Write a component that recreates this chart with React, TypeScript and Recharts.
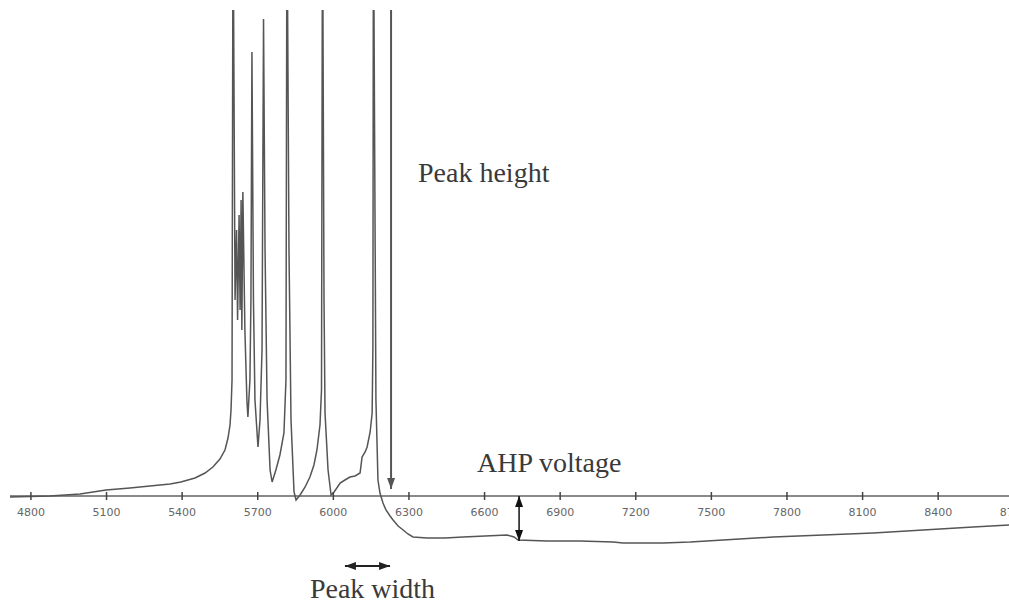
import React from "react";
import { LineChart, Line, XAxis, YAxis, ReferenceLine, ReferenceDot } from "recharts";

// membrane trace, time (ms) / voltage (arbitrary units, 0 = axis level)
const ONSET_T = [4717, 4875, 4995, 5098, 5193, 5272, 5352, 5395, 5451, 5491, 5522, 5550, 5570, 5582, 5590, 5594, 5598];
const ONSET_V = [-0.1, 0, 0.2, 0.6, 0.8, 1.0, 1.2, 1.4, 1.8, 2.3, 2.9, 3.7, 4.6, 5.8, 7.1, 8.6, 11.6];

const BURST_T = [
  5602, 5610, 5616, 5620, 5626, 5630, 5634, 5637, 5641, 5649, 5657, 5661, 5669, 5673, 5677, 5683, 5689,
  5701, 5709, 5717, 5723, 5729, 5737, 5749, 5757, 5772, 5788, 5804, 5812, 5816, 5824, 5832, 5844, 5852,
  5868, 5888, 5907, 5923, 5935, 5947, 5953, 5957, 5963, 5967, 5979, 5991, 6003, 6027, 6046, 6066, 6086,
  6106, 6114, 6126, 6134, 6146, 6154, 6157, 6159, 6169, 6177, 6185, 6197, 6209,
];
const BURST_V = [
  60, 19.6, 26.6, 17.6, 28.1, 18.6, 29.6, 16.6, 30.4, 16.6, 9.6, 7.9, 11.6, 19.6, 44.4, 19.6, 9.6,
  4.9, 7.6, 14.6, 47.7, 24.6, 9.6, 2.6, 1.4, 2.6, 4.1, 6.3, 11.6, 60, 24.6, 7.6, 0.4, -0.4,
  0.1, 0.9, 1.9, 3.1, 4.6, 7.1, 10.6, 60, 19.6, 8.3, 2.6, 0.1, 0.4, 1.3, 1.6, 1.9, 2.0,
  2.3, 3.9, 4.4, 4.9, 6.4, 8.3, 14.9, 60, 9.6, 1.6, 0.3, -0.7, -1.4,
];

const AHP_T = [6225, 6237, 6257, 6277, 6296, 6316, 6372, 6443, 6515, 6602, 6689, 6717, 6733, 6848, 6979, 7110, 7150, 7309, 7416, 7547, 7745, 7944, 8142, 8341, 8539, 8682, 8800];
const AHP_V = [-2.0, -2.4, -3.0, -3.4, -3.8, -4.1, -4.2, -4.2, -4.1, -4.0, -3.9, -4.1, -4.4, -4.5, -4.5, -4.6, -4.7, -4.7, -4.6, -4.4, -4.1, -3.9, -3.7, -3.4, -3.1, -2.9, -2.7];

const X_TICKS = [4800, 5100, 5400, 5700, 6000, 6300, 6600, 6900, 7200, 7500, 7800, 8100, 8400, 8700];

// annotations
const PEAK_HEIGHT_ARROW = [{ x: 6229, y: 48.6 }, { x: 6229, y: 0.7 }];
const AHP_ARROW = [{ x: 6737, y: 0 }, { x: 6737, y: -4.5 }];
const PEAK_WIDTH_ARROW = [{ x: 6046, y: -7.0 }, { x: 6225, y: -7.0 }];
const LABELS = [
  { text: "Peak height", t: 6336, v: 31.4 },
  { text: "AHP voltage", t: 6570, v: 2.4 },
  { text: "Peak width", t: 5907, v: -10.2 },
];

const data = [
  ...ONSET_T.map((t, i) => ({ t, v: ONSET_V[i] })),
  ...BURST_T.map((t, i) => ({ t, v: BURST_V[i] })),
  ...AHP_T.map((t, i) => ({ t, v: AHP_V[i] })),
];

const W = 1039;
const H = 603;
const MARGIN = { top: 10, right: 0, bottom: 0, left: 10 };
const X_AXIS_H = 1;
const Y_MIN = -10.6;
const Y_MAX = 48.6;
const PLOT_H = H - MARGIN.top - MARGIN.bottom - X_AXIS_H;
const AXIS_Y = MARGIN.top + (Y_MAX / (Y_MAX - Y_MIN)) * PLOT_H;

function AxisTick(props: any) {
  const { x, payload } = props;
  return (
    <g>
      <line x1={x} x2={x} y1={AXIS_Y - 4} y2={AXIS_Y + 4} stroke="#444" strokeWidth={1.5} />
      <text
        x={x}
        y={AXIS_Y + 20}
        textAnchor="middle"
        fontFamily="DejaVu Sans"
        fontSize={11}
        fill="#666"
      >
        {payload.value}
      </text>
    </g>
  );
}

function head(tx: number, ty: number, dx: number, dy: number, color: string) {
  const len = Math.hypot(dx, dy) || 1;
  const ux = dx / len;
  const uy = dy / len;
  const L = 11;
  const hw = 4;
  const bx = tx - ux * L;
  const by = ty - uy * L;
  const pts = `${tx},${ty} ${bx - uy * hw},${by + ux * hw} ${bx + uy * hw},${by - ux * hw}`;
  return <polygon points={pts} fill={color} />;
}

function arrowShape(both: boolean, color: string, width: number) {
  return (p: any) => {
    const { x1, y1, x2, y2 } = p;
    return (
      <g>
        <line x1={x1} y1={y1} x2={x2} y2={y2} stroke={color} strokeWidth={width} />
        {head(x2, y2, x2 - x1, y2 - y1, color)}
        {both && head(x1, y1, x1 - x2, y1 - y2, color)}
      </g>
    );
  };
}

function labelShape(text: string) {
  return (p: any) => (
    <text x={p.cx} y={p.cy} fontFamily="Liberation Serif" fontSize={28} fill="#3a3a3a">
      {text}
    </text>
  );
}

export default function App() {
  return (
    <div
      style={{
        position: "absolute",
        left: 0,
        top: 0,
        width: 1009,
        height: 603,
        overflow: "hidden",
        background: "#fff",
      }}
    >
      <LineChart width={W} height={H} data={data} margin={MARGIN}>
        <XAxis
          dataKey="t"
          type="number"
          domain={[4717, 8800]}
          allowDataOverflow
          ticks={X_TICKS}
          interval={0}
          height={X_AXIS_H}
          axisLine={false}
          tickLine={false}
          tickSize={0}
          tickMargin={0}
          tick={<AxisTick />}
        />
        <YAxis type="number" domain={[Y_MIN, Y_MAX]} allowDataOverflow hide />
        <ReferenceLine y={0} stroke="#8a8a8a" strokeWidth={2} />
        <Line
          type="linear"
          dataKey="v"
          stroke="#555"
          strokeWidth={1.5}
          dot={false}
          activeDot={false}
          isAnimationActive={false}
        />
        <ReferenceLine segment={PEAK_HEIGHT_ARROW} shape={arrowShape(false, "#555", 2)} />
        <ReferenceLine segment={AHP_ARROW} shape={arrowShape(true, "#111", 1.5)} />
        <ReferenceLine segment={PEAK_WIDTH_ARROW} shape={arrowShape(true, "#222", 2)} />
        {LABELS.map((l) => (
          <ReferenceDot key={l.text} x={l.t} y={l.v} r={0} shape={labelShape(l.text)} />
        ))}
      </LineChart>
    </div>
  );
}
